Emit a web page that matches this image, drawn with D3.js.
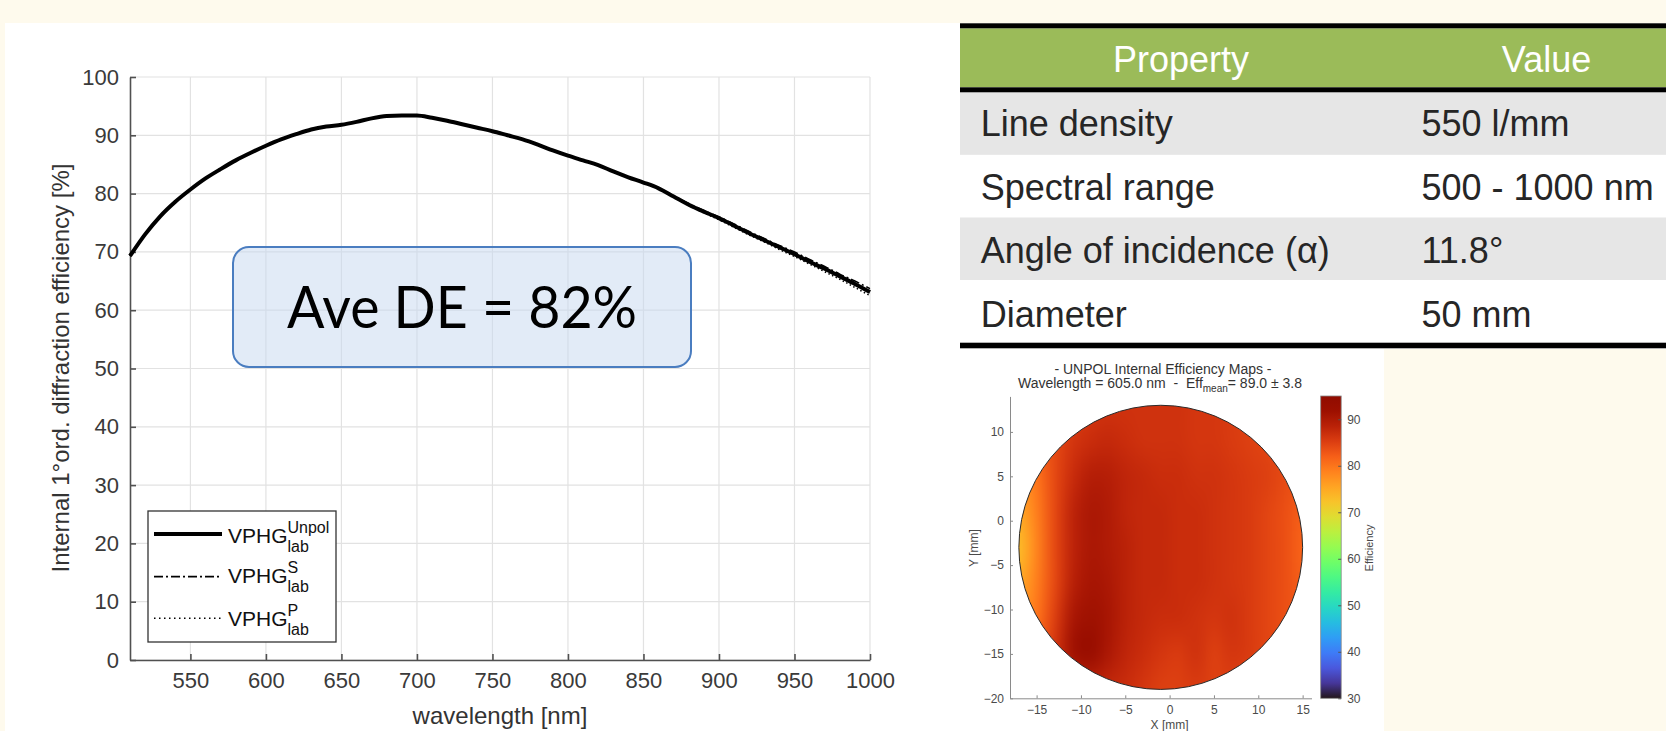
<!DOCTYPE html>
<html><head><meta charset="utf-8">
<script src="https://cdn.jsdelivr.net/npm/d3@7"></script>
<style>
html,body{margin:0;padding:0;background:#fefaed;}
svg{display:block;}
</style></head>
<body>
<svg id="c" width="1666" height="731"></svg>
<script>
// ---------- data ----------
const wavelengths = [510,520,530,540,550,560,570,580,590,600,610,620,630,640,650,660,670,680,690,700,710,720,730,740,750,760,770,780,790,800,810,820,830,840,850,860,870,880,890,900,910,920,930,940,950,960,970,980,990,1000];
const deUnpol = [69.3,73.0,76.1,78.6,80.7,82.6,84.2,85.7,87.0,88.2,89.3,90.2,91.0,91.5,91.8,92.3,92.9,93.3,93.4,93.4,93.0,92.5,91.9,91.3,90.7,90.0,89.3,88.4,87.4,86.5,85.7,84.9,83.8,82.8,81.9,80.9,79.5,78.1,76.9,75.8,74.5,73.2,72.0,70.8,69.6,68.3,67.1,65.8,64.5,63.1];
const deS     = [69.3,73.0,76.1,78.6,80.7,82.6,84.2,85.7,87.0,88.2,89.3,90.2,91.0,91.5,91.8,92.3,92.9,93.3,93.4,93.4,93.0,92.5,91.9,91.3,90.7,90.0,89.3,88.4,87.4,86.5,85.7,84.9,83.8,82.8,81.9,81.0,79.6,78.3,77.1,76.0,74.8,73.5,72.3,71.1,70.0,68.7,67.5,66.2,65.0,63.7];
const deP     = [69.3,73.0,76.1,78.6,80.7,82.6,84.2,85.7,87.0,88.2,89.3,90.2,91.0,91.5,91.8,92.3,92.9,93.3,93.4,93.4,93.0,92.5,91.9,91.3,90.7,90.0,89.3,88.4,87.4,86.5,85.7,84.9,83.8,82.8,81.9,80.8,79.4,78.0,76.7,75.5,74.2,72.9,71.7,70.4,69.2,67.9,66.6,65.3,63.9,62.5];
const xTicks = [550,600,650,700,750,800,850,900,950,1000];
const yTicks = [0,10,20,30,40,50,60,70,80,90,100];
const annotationText = "Ave DE = 82%";

const tableHeader = ["Property","Value"];
const tableProps  = ["Line density","Spectral range","Angle of incidence (\u03b1)","Diameter"];
const tableValues = ["550 l/mm","500 - 1000 nm","11.8\u00b0","50 mm"];

const mapX = [-17,-15,-13,-11,-9,-7,-5,-3,-1,1,3,5,7,9,11,13,15];
const mapY = [13,9,5,1,-3,-7,-11,-15,-19];
const mapEff = [
 [82,83,84,85,86,86.5,86.5,86.5,86.5,86.5,86,86,85.5,85,84.5,84,83],
 [80,82,84,86,87,87.5,87,86.5,86.5,86.5,86,86,85.5,85,84.5,84,83],
 [77,80,84,87,89,89,88,87.5,87,87,86.5,86.5,86,85.5,85,84,83],
 [75,79,84,88,90,89.5,88,87.5,87.5,87,87,86.5,86,85.5,84.5,83.5,82],
 [73,78.5,84,88,90,89.5,88.5,87.5,87.5,87,87,86.5,86,85.5,84.5,83.5,81.5],
 [75,79,84,88.5,90.5,90,88.5,87.5,87.5,87,87,86.5,86,85.5,84.5,83.5,82],
 [77,80,85,90,91.5,90.5,88.5,87.5,87,87,86.5,86,86.5,85.5,84.5,83.5,83],
 [80,82,86,91,92.5,90,88,87,86,85.5,86.5,85,86,85.5,84.5,84,83],
 [82,83,85,87,88,87.5,87,86,85,85,85.5,85,85,84.5,84,83.5,83]
];
const mapXTicks = [-15,-10,-5,0,5,10,15];
const mapYTicks = [-20,-15,-10,-5,0,5,10];
const cbarTicks = [30,40,50,60,70,80,90];
const mapTitle1 = "- UNPOL Internal Efficiency Maps -";

// ---------- layout ----------
const svg = d3.select("#c");
const FONT = "'Liberation Sans', Arial, Helvetica, sans-serif";

// backgrounds
svg.append("rect").attr("x",0).attr("y",0).attr("width",1666).attr("height",731).attr("fill","#fefaed");
svg.append("rect").attr("x",5).attr("y",23).attr("width",1661).attr("height",708).attr("fill","#ffffff");
svg.append("rect").attr("x",1384).attr("y",349).attr("width",282).attr("height",382).attr("fill","#fefaed");

// ---------- main chart ----------
const x = d3.scaleLinear().domain([510,1000]).range([130,870]);
const y = d3.scaleLinear().domain([0,100]).range([660,77]);
const g = svg.append("g");

// grid
g.append("g").selectAll("line").data(xTicks).join("line")
  .attr("x1",d=>x(d)).attr("x2",d=>x(d)).attr("y1",y(0)).attr("y2",y(100))
  .attr("stroke","#e2e2e2").attr("stroke-width",1.2);
g.append("g").selectAll("line").data(yTicks).join("line")
  .attr("x1",x(510)).attr("x2",x(1000)).attr("y1",d=>y(d)).attr("y2",d=>y(d))
  .attr("stroke","#e2e2e2").attr("stroke-width",1.2);

// axes
const xAxis = d3.axisBottom(x).tickValues(xTicks).tickFormat(d3.format("d")).tickSizeInner(-6).tickSizeOuter(0).tickPadding(12);
const yAxis = d3.axisLeft(y).tickValues(yTicks).tickFormat(d3.format("d")).tickSizeInner(-6).tickSizeOuter(0).tickPadding(12);
const gx = g.append("g").attr("transform",`translate(0,${y(0)})`).call(xAxis);
const gy = g.append("g").attr("transform",`translate(${x(510)},0)`).call(yAxis);
[gx,gy].forEach(a=>{
  a.select(".domain").attr("stroke","#505050").attr("stroke-width",1.6);
  a.selectAll(".tick line").attr("stroke","#505050").attr("stroke-width",1.6);
  a.selectAll(".tick text").attr("fill","#3a3a3a").attr("font-family",FONT).attr("font-size",22);
});
gx.selectAll(".tick text").attr("dy","0.72em");
gy.selectAll(".tick text").attr("dx","0").attr("x",-11);

// axis labels
g.append("text").attr("x",500).attr("y",724).attr("text-anchor","middle")
  .attr("font-family",FONT).attr("font-size",24).attr("fill","#333").text("wavelength [nm]");
g.append("text").attr("transform","translate(69,368) rotate(-90)").attr("text-anchor","middle")
  .attr("font-family",FONT).attr("font-size",24).attr("fill","#333")
  .text("Internal 1\u00b0ord. diffraction efficiency [%]");

// curves
const line = d3.line().x((d,i)=>x(wavelengths[i])).y(d=>y(d)).curve(d3.curveMonotoneX);
g.append("path").datum(deUnpol).attr("d",line).attr("fill","none").attr("stroke","#000").attr("stroke-width",4).attr("stroke-linejoin","round");
g.append("path").datum(deS).attr("d",line).attr("fill","none").attr("stroke","#000").attr("stroke-width",1.5).attr("stroke-dasharray","9,3,2,3");
g.append("path").datum(deP).attr("d",line).attr("fill","none").attr("stroke","#000").attr("stroke-width",1.5).attr("stroke-dasharray","1.5,2.5");

// annotation
g.append("rect").attr("x",233).attr("y",247).attr("width",458).attr("height",120).attr("rx",16).attr("ry",16)
  .attr("fill","#c6d8f0").attr("fill-opacity",0.5).attr("stroke","#4a7dc0").attr("stroke-width",2);
g.append("text").attr("x",462).attr("y",328).attr("text-anchor","middle")
  .attr("font-family","Lato, 'Open Sans', sans-serif").attr("font-size",58).attr("fill","#000")
  .attr("textLength",350).attr("lengthAdjust","spacingAndGlyphs").text(annotationText);

// legend
const lg = g.append("g");
lg.append("rect").attr("x",148).attr("y",511).attr("width",188).attr("height",131).attr("fill","#fff").attr("stroke","#333").attr("stroke-width",1.3);
const legendRows = [
  {sup:"Unpol", w:4, dash:null, ly:534, by:542.7},
  {sup:"S", w:1.8, dash:"9,3,2,3", ly:576.7, by:583},
  {sup:"P", w:1.6, dash:"1.5,3.5", ly:618.3, by:625.7}
];
legendRows.forEach(r=>{
  lg.append("line").attr("x1",154).attr("x2",222).attr("y1",r.ly).attr("y2",r.ly)
    .attr("stroke","#000").attr("stroke-width",r.w).attr("stroke-dasharray",r.dash);
  lg.append("text").attr("x",228).attr("y",r.by).attr("font-family",FONT).attr("font-size",21).attr("fill","#111").text("VPHG");
  lg.append("text").attr("x",287.5).attr("y",r.by-10).attr("font-family",FONT).attr("font-size",16).attr("fill","#111").text(r.sup);
  lg.append("text").attr("x",287.5).attr("y",r.by+9).attr("font-family",FONT).attr("font-size",16).attr("fill","#111").text("lab");
});

// ---------- table ----------
const tg = svg.append("g");
const tX0 = 960, tX1 = 1666;
tg.append("rect").attr("x",tX0).attr("y",28.3).attr("width",tX1-tX0).attr("height",59).attr("fill","#9bbb59");
const rowTop = [92.3,154.9,217.5,280.1];
const rowH = 62.6;
rowTop.forEach((t,i)=>{
  tg.append("rect").attr("x",tX0).attr("y",t).attr("width",tX1-tX0).attr("height",rowH)
    .attr("fill", i%2===0 ? "#e6e6e6" : "#ffffff");
});
[[23.3,5],[87.3,5],[342.7,5.6]].forEach(([yy,h])=>{
  tg.append("rect").attr("x",tX0).attr("y",yy).attr("width",tX1-tX0).attr("height",h).attr("fill","#000");
});
tg.append("text").attr("x",1181).attr("y",71.7).attr("text-anchor","middle").attr("font-family",FONT).attr("font-size",36).attr("fill","#fff").text(tableHeader[0]);
tg.append("text").attr("x",1546.5).attr("y",71.7).attr("text-anchor","middle").attr("font-family",FONT).attr("font-size",36).attr("fill","#fff").text(tableHeader[1]);
const rowBase = [136,200,263.3,326.7];
tableProps.forEach((p,i)=>{
  tg.append("text").attr("x",980.7).attr("y",rowBase[i]).attr("font-family",FONT).attr("font-size",36).attr("fill","#262626").text(p);
  tg.append("text").attr("x",1421.5).attr("y",rowBase[i]).attr("font-family",FONT).attr("font-size",36).attr("fill","#262626").text(tableValues[i]);
});

// ---------- efficiency map ----------
const mg = svg.append("g");
const mx = d3.scaleLinear().domain([-18,16]).range([1010,1311.5]);
const my = d3.scaleLinear().domain([-20,14]).range([698.3,396.4]);
const cScale = d3.scaleSequential(d3.interpolateTurbo).domain([30,95]);

// heat image
const small = document.createElement("canvas");
small.width = mapX.length; small.height = mapY.length;
const sctx = small.getContext("2d");
mapEff.forEach((row,j)=>row.forEach((v,i)=>{ sctx.fillStyle = cScale(v); sctx.fillRect(i,j,1,1); }));
const big = document.createElement("canvas");
big.width = 340; big.height = 360;
const bctx = big.getContext("2d");
bctx.imageSmoothingEnabled = true; bctx.imageSmoothingQuality = "high";
bctx.drawImage(small,0,0,big.width,big.height);

const cx = mx(-1), cy = my(-3), rx = mx(15)-mx(-1), ry = my(-19)-my(-3);
const defs = svg.append("defs");
defs.append("clipPath").attr("id","disc").append("ellipse").attr("cx",cx).attr("cy",cy).attr("rx",rx).attr("ry",ry);
const x0 = mx(mapX[0]-1), x1 = mx(mapX[mapX.length-1]+1);
const y0 = my(mapY[0]+2), y1 = my(mapY[mapY.length-1]-2);
mg.append("image").attr("href",big.toDataURL()).attr("x",x0).attr("y",y0)
  .attr("width",x1-x0).attr("height",y1-y0).attr("preserveAspectRatio","none").attr("clip-path","url(#disc)");
mg.append("ellipse").attr("cx",cx).attr("cy",cy).attr("rx",rx).attr("ry",ry).attr("fill","none").attr("stroke","#2a2a2a").attr("stroke-width",1);

// map axes
const mxAxis = d3.axisBottom(mx).tickValues(mapXTicks).tickSizeInner(-3).tickSizeOuter(0).tickPadding(7);
const myAxis = d3.axisLeft(my).tickValues(mapYTicks).tickSizeInner(-3).tickSizeOuter(0).tickPadding(6);
const mgx = mg.append("g").attr("transform",`translate(0,${my(-20)})`).call(mxAxis);
const mgy = mg.append("g").attr("transform",`translate(${mx(-18)},0)`).call(myAxis);
[mgx,mgy].forEach(a=>{
  a.select(".domain").attr("stroke","#8a8a8a").attr("stroke-width",1);
  a.selectAll(".tick line").attr("stroke","#8a8a8a");
  a.selectAll(".tick text").attr("fill","#4a4a4a").attr("font-family",FONT).attr("font-size",12);
});
mg.append("text").attr("x",mx(0)).attr("y",728.5).attr("text-anchor","middle").attr("font-family",FONT).attr("font-size",12).attr("fill","#4a4a4a").text("X [mm]");
mg.append("text").attr("transform","translate(978,548) rotate(-90)").attr("text-anchor","middle").attr("font-family",FONT).attr("font-size",12).attr("fill","#4a4a4a").text("Y [mm]");

// titles
mg.append("text").attr("x",1163).attr("y",374).attr("text-anchor","middle").attr("font-family",FONT).attr("font-size",14).attr("fill","#333").text(mapTitle1);
const t2 = mg.append("text").attr("x",1160).attr("y",388).attr("text-anchor","middle").attr("font-family",FONT).attr("font-size",14).attr("fill","#333");
t2.append("tspan").text("Wavelength = 605.0 nm \u00a0- \u00a0Eff");
t2.append("tspan").attr("dy",4).attr("font-size",10).text("mean");
t2.append("tspan").attr("dy",-4).text("= 89.0 \u00b1 3.8");

// colorbar
const cb = d3.scaleLinear().domain([30,95]).range([698.3,396]);
const grad = defs.append("linearGradient").attr("id","turbo").attr("x1",0).attr("y1",1).attr("x2",0).attr("y2",0);
d3.range(0,1.0001,0.05).forEach(t=>{
  grad.append("stop").attr("offset",t).attr("stop-color",d3.interpolateTurbo(t));
});
mg.append("rect").attr("x",1320.7).attr("y",cb(95)).attr("width",20.5).attr("height",cb(30)-cb(95))
  .attr("fill","url(#turbo)").attr("stroke","#8a8a8a").attr("stroke-width",0.8);
const cbAxis = d3.axisRight(cb).tickValues(cbarTicks).tickSizeInner(-3).tickSizeOuter(0).tickPadding(6);
const cga = mg.append("g").attr("transform","translate(1341.2,0)").call(cbAxis);
cga.select(".domain").remove();
cga.selectAll(".tick line").attr("stroke","#555");
cga.selectAll(".tick text").attr("fill","#4a4a4a").attr("font-family",FONT).attr("font-size",12);
mg.append("text").attr("transform","translate(1373,548) rotate(-90)").attr("text-anchor","middle").attr("font-family",FONT).attr("font-size",11).attr("fill","#4a4a4a").text("Efficiency");
</script>
</body></html>
